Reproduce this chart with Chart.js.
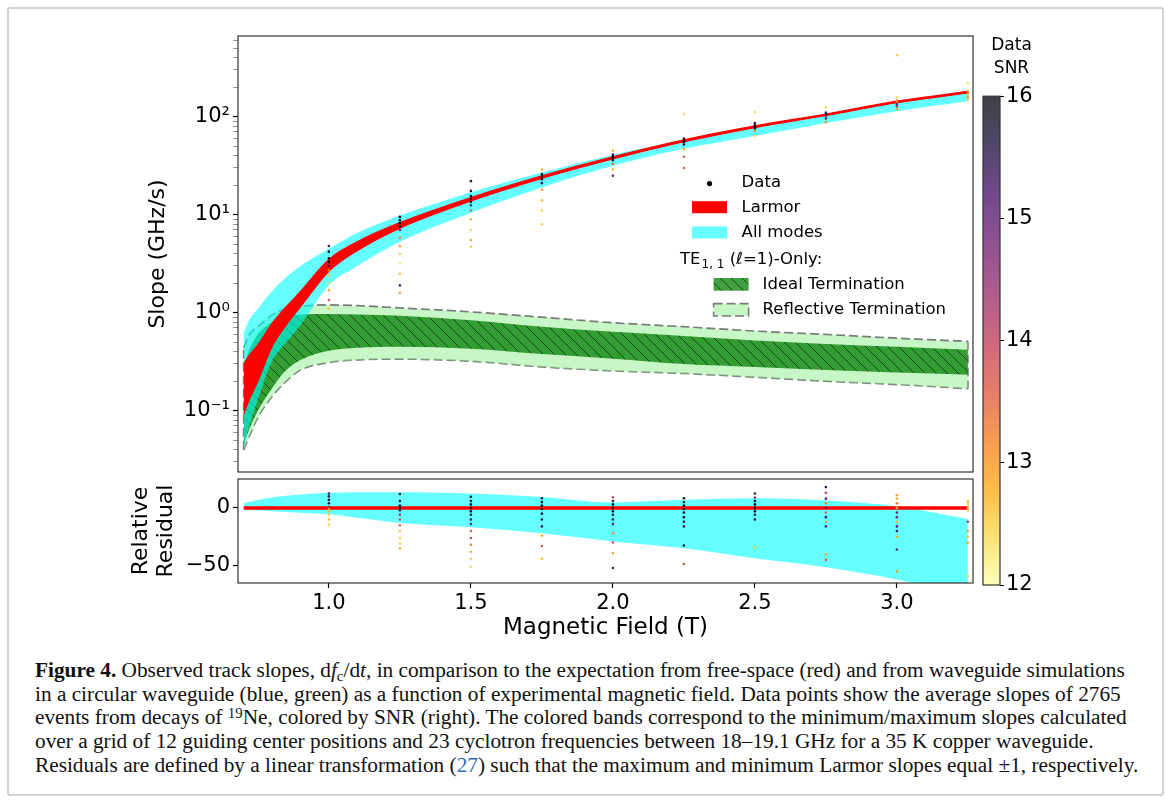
<!DOCTYPE html>
<html>
<head>
<meta charset="utf-8">
<title>Figure 4 - track slopes</title>
<script src="https://cdn.jsdelivr.net/npm/chart.js@4.4.1/dist/chart.umd.min.js"></script>
<style>
    body { margin: 0; background: #fff; width: 1167px; height: 802px; position: relative; overflow: hidden; }
    .frame { position: absolute; left: 7px; top: 7px; width: 1153px; height: 785px; border: 2px solid #d2d2d2; border-radius: 3px; }
    canvas { position: absolute; }
    #topChart { left: 120px; top: 30px; }
    #resChart { left: 120px; top: 475px; }
    #cbarChart { left: 975px; top: 30px; }
    .caption { position: absolute; left: 35px; top: 659px; font-family: 'Liberation Serif', serif; font-size: 21.3px; line-height: 23.7px; white-space: nowrap; color: #111; }
    .caption sub, .caption sup { font-size: 0.7em; position: relative; vertical-align: baseline; line-height: 0; }
    .caption sub { top: 0.25em; }
    .caption sup { top: -0.45em; }
    .caption .ref { color: #2a6db5; }
</style>
</head>
<body>
<div class="frame"></div>
<canvas id="topChart" width="860" height="446"></canvas>
<canvas id="resChart" width="860" height="171"></canvas>
<canvas id="cbarChart" width="65" height="570"></canvas>
<div class="caption">
<b>Figure 4.</b> Observed track slopes, d<i>f</i><sub>c</sub>/d<i>t</i>, in comparison to the expectation from free-space (red) and from waveguide simulations<br>
in a circular waveguide (blue, green) as a function of experimental magnetic field. Data points show the average slopes of 2765<br>
events from decays of <sup>19</sup>Ne, colored by SNR (right). The colored bands correspond to the minimum/maximum slopes calculated<br>
over a grid of 12 guiding center positions and 23 cyclotron frequencies between 18–19.1 GHz for a 35 K copper waveguide.<br>
Residuals are defined by a linear transformation (<span class="ref">27</span>) such that the maximum and minimum Larmor slopes equal ±1, respectively.
</div>

<script>
// Slope bands (GHz/s) vs magnetic field (T)
const bandField      = [0.70, 0.72, 0.75, 0.80, 0.85, 0.90, 1.00, 1.10, 1.25, 1.50, 1.75, 2.00, 2.25, 2.50, 2.75, 3.00, 3.25];
const larmorLow      = [0.092, 0.13, 0.20, 0.45, 0.75, 1.15, 2.65, 4.3, 7.3, 13.8, 23.5, 37, 55.5, 77.5, 103, 139, 175];
const larmorHigh     = [0.30, 0.37, 0.47, 0.78, 1.15, 1.65, 3.5, 5.3, 8.3, 15.0, 25, 39, 58, 80.5, 106.5, 144, 181];
const allModesLow    = [0.041, 0.07, 0.13, 0.32, 0.50, 0.75, 1.9, 3.0, 5.3, 10.5, 19, 31.6, 47, 63.5, 86, 114, 144];
const allModesHigh   = [0.62, 0.85, 1.1, 1.66, 2.3, 3.0, 4.5, 6.5, 9.8, 17, 27, 41, 58, 80, 106, 143, 180];
const idealLow       = [0.045, 0.065, 0.10, 0.17, 0.26, 0.33, 0.41, 0.44, 0.45, 0.43, 0.38, 0.34, 0.30, 0.28, 0.26, 0.245, 0.233];
const idealHigh      = [0.28, 0.42, 0.60, 0.80, 0.92, 0.96, 0.97, 0.96, 0.93, 0.84, 0.72, 0.64, 0.58, 0.52, 0.48, 0.45, 0.42];
const reflectiveLow  = [0.040, 0.055, 0.085, 0.14, 0.20, 0.26, 0.31, 0.33, 0.336, 0.32, 0.28, 0.255, 0.24, 0.22, 0.20, 0.185, 0.168];
const reflectiveHigh = [0.44, 0.60, 0.72, 0.95, 1.10, 1.16, 1.20, 1.18, 1.12, 1.02, 0.90, 0.79, 0.72, 0.65, 0.60, 0.55, 0.51];

// Relative residual band (all modes) and Larmor reference
const residualField = [0.70, 0.80, 0.90, 1.00, 1.10, 1.25, 1.50, 1.75, 2.00, 2.25, 2.50, 2.75, 3.00, 3.25];
const residualLow   = [-1.9, -3.0, -4.3, -5.6, -8.5, -13, -16.7, -22, -29, -35, -43.6, -51.4, -62, -76];
const residualHigh  = [4.2, 9.0, 11.5, 13, 13.5, 13.6, 12.5, 9.5, 4.7, 7, 8.3, 6.5, 1.4, -9.7];
const larmorResField = [0.70, 3.25];
const larmorResValue = [0, 0];

// Measured slopes (top panel)
const dataField = [
    1.0, 1.0, 1.0, 1.0, 1.0, 1.0, 1.0, 1.0, 1.0, 1.0, 1.0,
    1.25, 1.25, 1.25, 1.25, 1.25, 1.25, 1.25, 1.25, 1.25, 1.25, 1.25, 1.25,
    1.5, 1.5, 1.5, 1.5, 1.5, 1.5, 1.5, 1.5, 1.5, 1.5, 1.5,
    1.75, 1.75, 1.75, 1.75, 1.75, 1.75, 1.75, 1.75, 1.75,
    2.0, 2.0, 2.0, 2.0, 2.0, 2.0, 2.0, 2.0,
    2.25, 2.25, 2.25, 2.25, 2.25, 2.25, 2.25, 2.25,
    2.5, 2.5, 2.5, 2.5, 2.5, 2.5, 2.5,
    2.75, 2.75, 2.75, 2.75, 2.75, 2.75,
    3.0, 3.0, 3.0, 3.0, 3.0, 3.0, 3.0,
    3.25, 3.25, 3.25, 3.25, 3.25, 3.25
];
const dataSlope = [
    4.8, 4.2, 3.6, 3.3, 3.0, 2.7, 2.4, 2.0, 1.7, 1.35, 1.1,
    9.5, 8.8, 8.2, 7.6, 7.0, 5.8, 4.8, 4.0, 3.2, 2.5, 1.9, 1.6,
    22, 17.5, 15.5, 14.5, 13.5, 12.5, 11, 9, 7, 5.5, 4.7,
    29, 26, 24.5, 23, 21, 18, 14, 11, 8,
    45, 41, 39, 37.5, 36, 33, 29, 25,
    107, 60, 57, 55, 52, 47, 39, 30,
    111, 86, 82, 79, 76, 72, 64,
    125, 110, 105, 101, 96, 88,
    424, 158, 146, 141, 135, 128, 120,
    220, 182, 176, 168, 158, 150
];
const dataSnr = [
    15.5, 15.8, 16, 15.9, 15.2, 13.0, 12.6, 12.4, 12.8, 13.8, 12.5,
    16, 15.9, 16, 15.5, 14.8, 13.2, 12.9, 12.5, 12.3, 12.6, 15.2, 13.0,
    15.6, 15.9, 16, 16, 15.8, 15, 13.3, 12.7, 12.4, 12.8, 12.5,
    12.6, 15.8, 16, 15.9, 15.2, 13.0, 12.6, 12.4, 12.5,
    12.8, 15.9, 16, 16, 15.7, 13.5, 12.7, 15.0,
    12.3, 15.8, 16, 16, 15.5, 12.8, 13.8, 13.6,
    12.4, 15.6, 16, 16, 15.8, 13.2, 12.5,
    12.4, 15.2, 15.5, 14.6, 15.0, 13.0,
    12.5, 12.4, 13.3, 13.0, 15.0, 14.5, 12.9,
    12.3, 12.8, 13.2, 12.7, 13.0, 12.6
];

// Measured residuals (bottom panel)
const resField = [
    1.0, 1.0, 1.0, 1.0, 1.0, 1.0, 1.0, 1.0, 1.0, 1.0,
    1.25, 1.25, 1.25, 1.25, 1.25, 1.25, 1.25, 1.25, 1.25, 1.25, 1.25, 1.25,
    1.5, 1.5, 1.5, 1.5, 1.5, 1.5, 1.5, 1.5, 1.5, 1.5, 1.5, 1.5, 1.5, 1.5,
    1.75, 1.75, 1.75, 1.75, 1.75, 1.75, 1.75, 1.75, 1.75, 1.75,
    2.0, 2.0, 2.0, 2.0, 2.0, 2.0, 2.0, 2.0, 2.0, 2.0, 2.0, 2.0,
    2.25, 2.25, 2.25, 2.25, 2.25, 2.25, 2.25, 2.25, 2.25, 2.25,
    2.5, 2.5, 2.5, 2.5, 2.5, 2.5, 2.5, 2.5, 2.5,
    2.75, 2.75, 2.75, 2.75, 2.75, 2.75, 2.75, 2.75, 2.75, 2.75, 2.75,
    3.0, 3.0, 3.0, 3.0, 3.0, 3.0, 3.0, 3.0, 3.0, 3.0, 3.0, 3.0,
    3.25, 3.25, 3.25, 3.25, 3.25, 3.25, 3.25, 3.25, 3.25
];
const resValue = [
    12.5, 10, 7, 4, 1, -1, -3, -6, -10, -14.7,
    12, 6, 2, 0, -2, -6, -10, -15, -20, -26, -31, -35,
    9.7, 6, 3, 0, -3, -6, -10, -14, -20, -26, -32, -38, -44, -51,
    8.3, 5, 2, -1, -5, -10, -16, -24, -33, -44,
    9.2, 6, 3, 0, -3, -6, -10, -14, -22, -30, -39, -52,
    8.3, 5, 2, -1, -4, -8, -12, -16, -32.5, -48.6,
    12.5, 9, 6, 3, 0, -3, -6, -10, -34,
    18, 13, 8, 4, 0, -4, -8, -12, -16, -40, -45,
    11, 8, 4, 0, -4, -8, -12, -16, -20, -25, -36, -55,
    5.6, 3, 0, -2, -12, -20, -25, -30, -59
];
const resSnr = [
    15.2, 15.5, 16, 15.8, 14.2, 12.9, 12.6, 12.4, 12.7, 12.5,
    15.8, 16, 16, 15.9, 15.6, 14.4, 13.8, 13.5, 12.6, 12.5, 12.4, 12.7,
    16, 16, 15.9, 16, 15.8, 16, 15.5, 15, 13.6, 14, 13.2, 12.7, 12.5, 12.4,
    15.8, 16, 16, 15.9, 15.7, 15.6, 15.2, 12.8, 13.8, 12.7,
    14, 15.8, 16, 16, 15.9, 15.8, 15.5, 15.2, 13.0, 14, 12.9, 15.2,
    16, 16, 16, 15.9, 16, 15.8, 15.6, 15.4, 15.8, 13.8,
    15.5, 14.8, 16, 16, 16, 15.9, 15.6, 15.8, 12.6,
    15.6, 14.0, 15.2, 13.2, 15.0, 13.5, 15.3, 12.9, 15.0, 12.8, 13.6,
    13.0, 12.7, 13.3, 12.6, 15.0, 14.8, 12.7, 15.2, 15.4, 12.8, 15.0, 13.0,
    12.8, 12.5, 12.7, 12.6, 14.3, 13.0, 12.6, 12.9, 12.5
];

// Axis ticks
const fieldTicks = [1.0, 1.5, 2.0, 2.5, 3.0];
const slopeMajorTicks = [0.1, 1, 10, 100];
const slopeTickLabels = ['10\u207B\u00B9', '10\u2070', '10\u00B9', '10\u00B2'];
const residualTicks = [-50, 0];
const snrTicks = [12, 13, 14, 15, 16];

const FONT = '"DejaVu Sans", sans-serif';
const FIELD_MIN = 0.68, FIELD_MAX = 3.268;

// inferno colormap, reversed for SNR 12 -> 16
const infernoStops = [
    [0.0, 0, 0, 4], [0.1, 22, 11, 57], [0.2, 66, 10, 104], [0.3, 106, 23, 110],
    [0.4, 147, 38, 103], [0.5, 188, 55, 84], [0.6, 221, 81, 58], [0.7, 243, 120, 25],
    [0.8, 252, 165, 10], [0.9, 246, 215, 70], [1.0, 252, 255, 164]
];

function inferno(t) {
    t = Math.min(1, Math.max(0, t));
    for (let i = 1; i < infernoStops.length; i++) {
        const a = infernoStops[i - 1], b = infernoStops[i];
        if (t <= b[0]) {
            const f = (t - a[0]) / (b[0] - a[0]);
            return [1, 2, 3].map(k => Math.round(a[k] + f * (b[k] - a[k])));
        }
    }
    return infernoStops[infernoStops.length - 1].slice(1);
}

function snrColor(snr, alpha) {
    const c = inferno(1 - (snr - 12) / 4);
    return `rgba(${c[0]},${c[1]},${c[2]},${alpha})`;
}

function toPoints(xs, ys) {
    return xs.map((x, i) => ({ x: x, y: ys[i] }));
}

function makeHatch(ctx) {
    const tile = document.createElement('canvas');
    tile.width = 11; tile.height = 11;
    const g = tile.getContext('2d');
    g.fillStyle = 'rgba(0,128,0,0.75)';
    g.fillRect(0, 0, 11, 11);
    g.strokeStyle = 'rgba(20,40,20,0.75)';
    g.lineWidth = 1;
    g.beginPath();
    g.moveTo(-1, -1); g.lineTo(12, 12);
    g.moveTo(-1, 10); g.lineTo(1, 12);
    g.moveTo(10, -1); g.lineTo(12, 1);
    g.stroke();
    return ctx.createPattern(tile, 'repeat');
}

// full box round each plot area
const frameBox = {
    id: 'frameBox',
    afterDraw(chart) {
        const { ctx, chartArea: a } = chart;
        ctx.save();
        ctx.strokeStyle = '#333';
        ctx.lineWidth = 1.2;
        ctx.strokeRect(a.left, a.top, a.right - a.left, a.bottom - a.top);
        ctx.restore();
    }
};

const topCanvas = document.getElementById('topChart');
const hatch = makeHatch(topCanvas.getContext('2d'));

// Legend drawn inside the top panel
const slopeLegend = {
    id: 'slopeLegend',
    afterDraw(chart) {
        const ctx = chart.ctx;
        ctx.save();
        ctx.font = '16.5px ' + FONT;
        ctx.textBaseline = 'middle';
        ctx.textAlign = 'left';

        ctx.fillStyle = '#000';
        ctx.beginPath();
        ctx.arc(589.5, 153.6, 2.6, 0, Math.PI * 2);
        ctx.fill();
        ctx.fillText('Data', 621.6, 153);

        ctx.fillStyle = '#ff0000';
        ctx.fillRect(572, 171.2, 35, 12);
        ctx.fillStyle = '#000';
        ctx.fillText('Larmor', 621.6, 178);

        ctx.fillStyle = 'rgba(0,255,255,0.6)';
        ctx.fillRect(572, 196.5, 35, 12);
        ctx.fillStyle = '#000';
        ctx.fillText('All modes', 621.6, 202.6);

        // TE_{1,1} (l=1)-Only:
        let x = 560;
        ctx.fillText('TE', x, 229.7);
        x += ctx.measureText('TE').width + 1;
        ctx.font = '12px ' + FONT;
        ctx.fillText('1, 1', x, 234.5);
        x += ctx.measureText('1, 1').width;
        ctx.font = '16.5px ' + FONT;
        ctx.fillText(' (\u2113=1)-Only:', x, 229.7);

        ctx.fillStyle = hatch;
        ctx.fillRect(593.6, 248, 35, 12.7);
        ctx.fillStyle = '#000';
        ctx.fillText('Ideal Termination', 642.6, 255);

        ctx.fillStyle = 'rgba(144,238,144,0.5)';
        ctx.fillRect(593.6, 273.6, 35, 12.4);
        ctx.strokeStyle = 'rgba(110,110,110,0.9)';
        ctx.lineWidth = 1.6;
        ctx.setLineDash([9, 4]);
        ctx.strokeRect(593.6, 273.6, 35, 12.4);
        ctx.setLineDash([]);
        ctx.fillStyle = '#000';
        ctx.fillText('Reflective Termination', 642.6, 279.3);
        ctx.restore();
    }
};

function edgeLine(values, color, width, extra) {
    return Object.assign({
        data: toPoints(bandField, values),
        borderColor: color,
        borderWidth: width,
        pointRadius: 0,
        cubicInterpolationMode: 'monotone',
        fill: false
    }, extra || {});
}

const dashed = 'rgba(110,110,110,0.9)';
const nLast = bandField.length - 1;

// index 0..9, lower "order" drawn on top
const topDatasets = [
    {
        data: toPoints(dataField, dataSlope),
        showLine: false,
        pointRadius: 1.3,
        pointBorderWidth: 0,
        pointBackgroundColor: dataSnr.map(s => snrColor(s, 0.9)),
        order: 0
    },
    edgeLine(larmorHigh, '#ff0000', 1.2, { fill: 2, backgroundColor: '#ff0000', order: 1 }),
    edgeLine(larmorLow, '#ff0000', 1.2, { order: 1 }),
    edgeLine(allModesHigh, 'rgba(0,0,0,0)', 1, { fill: 4, backgroundColor: 'rgba(0,255,255,0.6)', order: 2 }),
    edgeLine(allModesLow, 'rgba(0,0,0,0)', 1, { order: 2 }),
    edgeLine(idealHigh, 'rgba(0,0,0,0)', 1, { fill: 6, backgroundColor: hatch, order: 3 }),
    edgeLine(idealLow, 'rgba(0,0,0,0)', 1, { order: 3 }),
    edgeLine(reflectiveHigh, dashed, 1.7, { fill: 8, backgroundColor: 'rgba(144,238,144,0.5)', borderDash: [9, 4], order: 4 }),
    edgeLine(reflectiveLow, dashed, 1.7, { borderDash: [9, 4], order: 4 }),
    {
        // closing edges of the reflective band
        data: [
            { x: bandField[0], y: reflectiveLow[0] }, { x: bandField[0], y: reflectiveHigh[0] },
            { x: bandField[nLast], y: null },
            { x: bandField[nLast], y: reflectiveHigh[nLast] }, { x: bandField[nLast], y: reflectiveLow[nLast] }
        ],
        borderColor: dashed, borderWidth: 1.7, borderDash: [9, 4], pointRadius: 0, spanGaps: false, fill: false, order: 4
    }
];

const slopeTickValues = [];
[0.01, 0.1, 1, 10, 100].forEach(d => {
    for (let m = 1; m <= 9; m++) {
        const v = +(m * d).toPrecision(3);
        if (v >= 0.0237 && v <= 666) slopeTickValues.push(v);
    }
});

new Chart(topCanvas, {
    type: 'line',
    data: { datasets: topDatasets },
    options: {
        responsive: false,
        animation: false,
        layout: { padding: { top: 6, right: 7, bottom: 1, left: 0 } },
        plugins: { legend: { display: false }, tooltip: { enabled: false } },
        scales: {
            x: { type: 'linear', min: FIELD_MIN, max: FIELD_MAX, display: false },
            y: {
                type: 'logarithmic',
                min: 0.0237,
                max: 666,
                afterBuildTicks: s => { s.ticks = slopeTickValues.map(v => ({ value: v, major: slopeMajorTicks.includes(v) })); },
                afterFit: s => { s.width = 118; s.paddingTop = 0; s.paddingBottom = 0; },
                ticks: {
                    autoSkip: false,
                    padding: 3,
                    color: '#000',
                    font: { family: FONT, size: 21 },
                    callback: v => {
                        const i = slopeMajorTicks.indexOf(v);
                        return i >= 0 ? slopeTickLabels[i] : '';
                    }
                },
                grid: {
                    drawOnChartArea: false,
                    tickLength: 5,
                    tickColor: c => (c.tick && slopeMajorTicks.includes(c.tick.value)) ? '#000' : '#777',
                    tickWidth: c => (c.tick && slopeMajorTicks.includes(c.tick.value)) ? 1.2 : 0.8
                },
                border: { display: false },
                title: { display: true, text: 'Slope (GHz/s)', color: '#000', font: { family: FONT, size: 22 }, padding: { top: 25.5, bottom: 0 } }
            }
        }
    },
    plugins: [frameBox, slopeLegend]
});

// Residual panel
new Chart(document.getElementById('resChart'), {
    type: 'line',
    data: {
        datasets: [
            {
                data: toPoints(resField, resValue),
                showLine: false,
                pointRadius: 1.3,
                pointBorderWidth: 0,
                pointBackgroundColor: resSnr.map(s => snrColor(s, 0.9)),
                order: 0
            },
            {
                data: toPoints(larmorResField, larmorResValue),
                borderColor: '#ff0000', borderWidth: 3.5, pointRadius: 0, fill: false, order: 1
            },
            {
                data: toPoints(residualField, residualHigh),
                borderColor: 'rgba(0,0,0,0)', borderWidth: 1, pointRadius: 0,
                cubicInterpolationMode: 'monotone',
                fill: 3, backgroundColor: 'rgba(0,255,255,0.6)', order: 2
            },
            {
                data: toPoints(residualField, residualLow),
                borderColor: 'rgba(0,0,0,0)', borderWidth: 1, pointRadius: 0,
                cubicInterpolationMode: 'monotone', fill: false, order: 2
            }
        ]
    },
    options: {
        responsive: false,
        animation: false,
        layout: { padding: { top: 0, right: 7, bottom: 0, left: 0 } },
        plugins: { legend: { display: false }, tooltip: { enabled: false } },
        scales: {
            x: {
                type: 'linear',
                min: FIELD_MIN,
                max: FIELD_MAX,
                afterBuildTicks: s => { s.ticks = fieldTicks.map(v => ({ value: v })); },
                afterFit: s => { s.height = 63; s.paddingLeft = 0; s.paddingRight = 0; },
                ticks: { autoSkip: false, maxRotation: 0, padding: 3, color: '#000', font: { family: FONT, size: 21 }, callback: v => v.toFixed(1) },
                grid: { drawOnChartArea: false, tickLength: 5, tickColor: '#000', tickWidth: 1.2 },
                border: { display: false },
                title: { display: true, text: 'Magnetic Field (T)', color: '#000', font: { family: FONT, size: 23 }, padding: { top: 0, bottom: 4 } }
            },
            y: {
                type: 'linear',
                min: -65,
                max: 25,
                afterBuildTicks: s => { s.ticks = residualTicks.map(v => ({ value: v })); },
                afterFit: s => { s.width = 118; s.paddingTop = 0; s.paddingBottom = 0; },
                ticks: { autoSkip: false, padding: 3, color: '#000', font: { family: FONT, size: 21 }, callback: v => v < 0 ? '\u2212' + Math.abs(v) : String(v) },
                grid: { drawOnChartArea: false, tickLength: 5, tickColor: '#000', tickWidth: 1.2 },
                border: { display: false },
                title: { display: true, text: ['Relative', 'Residual'], color: '#000', font: { family: FONT, size: 22, lineHeight: 1.15 }, padding: { top: 8.4, bottom: 0 } }
            }
        }
    },
    plugins: [frameBox]
});

// Colour bar for data SNR
new Chart(document.getElementById('cbarChart'), {
    type: 'bar',
    data: {
        labels: ['SNR'],
        datasets: [{
            data: [[snrTicks[0], snrTicks[snrTicks.length - 1]]],
            barPercentage: 1,
            categoryPercentage: 1,
            borderWidth: 0,
            backgroundColor: c => {
                const a = c.chart.chartArea;
                if (!a) return null;
                const g = c.chart.ctx.createLinearGradient(0, a.bottom, 0, a.top);
                for (let i = 0; i <= 20; i++) g.addColorStop(i / 20, snrColor(12 + 4 * i / 20, 0.75));
                return g;
            }
        }]
    },
    options: {
        responsive: false,
        animation: false,
        layout: { padding: { top: 0, right: 0, bottom: 15, left: 8 } },
        plugins: {
            legend: { display: false },
            tooltip: { enabled: false },
            title: { display: true, text: ['Data', 'SNR'], color: '#000', font: { family: FONT, size: 17, weight: 'normal', lineHeight: 1.3 }, padding: { top: 5, bottom: 17 } }
        },
        scales: {
            x: { display: false },
            y: {
                position: 'right',
                min: 12,
                max: 16,
                afterBuildTicks: s => { s.ticks = snrTicks.map(v => ({ value: v })); },
                afterFit: s => { s.width = 40; s.paddingTop = 0; s.paddingBottom = 0; },
                ticks: { padding: 2, color: '#000', font: { family: FONT, size: 21 } },
                grid: { drawOnChartArea: false, tickLength: 4, tickColor: '#000' },
                border: { display: false }
            }
        }
    },
    plugins: [frameBox]
});
</script>
</body>
</html>
